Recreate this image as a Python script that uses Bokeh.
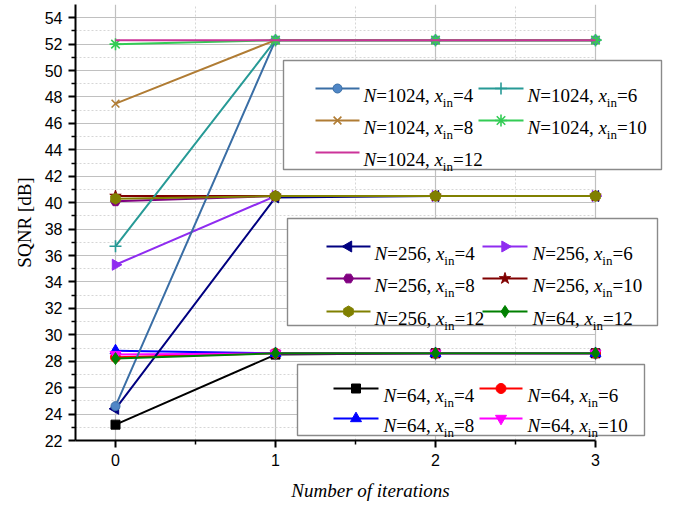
from math import pi
from bokeh.plotting import figure
from bokeh.models import FixedTicker, Range1d
from bokeh.core.properties import value
from bokeh.embed import file_html
from bokeh.resources import INLINE

# ---------------- data ----------------
iterations = [0, 1, 2, 3]

n1024_x4 = [24.6, 52.3, 52.3, 52.3]
n1024_x6 = [36.7, 52.3, 52.3, 52.3]
n1024_x8 = [47.5, 52.3, 52.3, 52.3]
n1024_x10 = [52.0, 52.3, 52.3, 52.3]
n1024_x12 = [52.3, 52.3, 52.3, 52.3]

n256_x4 = [24.4, 40.4, 40.5, 40.5]
n256_x6 = [35.3, 40.5, 40.5, 40.5]
n256_x8 = [40.1, 40.5, 40.5, 40.5]
n256_x10 = [40.5, 40.5, 40.5, 40.5]
n256_x12 = [40.3, 40.5, 40.5, 40.5]

n64_x4 = [23.2, 28.5, 28.6, 28.6]
n64_x6 = [28.3, 28.6, 28.6, 28.6]
n64_x8 = [28.8, 28.6, 28.6, 28.6]
n64_x10 = [28.5, 28.6, 28.6, 28.6]
n64_x12 = [28.2, 28.6, 28.6, 28.6]

x_ticks = [0, 1, 2, 3]
x_minor = [0.5, 1.5, 2.5]
y_ticks = [22, 24, 26, 28, 30, 32, 34, 36, 38, 40, 42, 44, 46, 48, 50, 52, 54]
y_minor = [23, 25, 27, 29, 31, 33, 35, 37, 39, 41, 43, 45, 47, 49, 51, 53]

# ---------------- layout ----------------
X0, X1 = -0.25, 3.4375
XEND = 3
Y0, Y1 = 22, 55.0
FRAME_L, FRAME_T = 75, 4      # page pixels
FW, FH = 590, 436


def dx(px):
    return X0 + (px - FRAME_L) * (X1 - X0) / FW


def dy(py):
    return Y1 - (py - FRAME_T) * (Y1 - Y0) / FH


p = figure(width=680, height=508, x_range=Range1d(X0, X1), y_range=Range1d(Y0, Y1),
           output_backend="svg", toolbar_location=None,
           min_border_left=75, min_border_right=15, min_border_top=4, min_border_bottom=68)
p.outline_line_color = None
p.background_fill_color = "white"
p.border_fill_color = "white"

xt = FixedTicker(ticks=x_ticks, minor_ticks=x_minor)
yt = FixedTicker(ticks=y_ticks, minor_ticks=y_minor)
p.xaxis.ticker = xt
p.yaxis.ticker = yt
p.xgrid.ticker = xt
p.ygrid.ticker = yt
p.xaxis.bounds = (X0, XEND)
p.xgrid.bounds = (X0, XEND)
try:
    p.ygrid.cross_bounds = (X0, XEND)
except Exception:
    pass

for g in (p.xgrid, p.ygrid):
    g.grid_line_color = "#c0c0c0"
    g.grid_line_width = 1.2
    g.minor_grid_line_color = "#d6d6d6"
    g.minor_grid_line_dash = "2 2"
    g.minor_grid_line_width = 1

for ax in (p.xaxis, p.yaxis):
    ax.axis_line_width = 2
    ax.axis_line_color = "black"
    ax.major_tick_line_width = 2
    ax.minor_tick_line_width = 1.5
    ax.major_tick_out = 7
    ax.major_tick_in = 0
    ax.minor_tick_out = 4
    ax.minor_tick_in = 0
    ax.major_label_text_font = "Liberation Sans"
    ax.major_label_text_font_size = "16px"
    ax.major_label_text_color = "black"
    ax.axis_label_text_font = "Liberation Serif"
    ax.axis_label_text_font_size = "19px"
    ax.axis_label_text_color = "black"

p.xaxis.axis_label = "Number of iterations"
p.xaxis.axis_label_text_font_style = "italic"
p.xaxis.major_label_standoff = 6
p.xaxis.axis_label_standoff = 11
p.yaxis.axis_label = "SQNR [dB]"
p.yaxis.axis_label_text_font_style = "normal"
p.yaxis.major_label_standoff = 6
p.yaxis.axis_label_standoff = 7

# ---------------- series ----------------
# (N, xin, values, color, marker, size, angle, fill, legend, row, col)
series = [
    ("64", "4", n64_x4, "#000000", "square", 9, 0, "#000000", 2, 0, 0),
    ("64", "6", n64_x6, "#ff0000", "circle", 10, 0, "#ff0000", 2, 0, 1),
    ("64", "8", n64_x8, "#0000ff", "triangle", 11, 0, "#0000ff", 2, 1, 0),
    ("64", "10", n64_x10, "#ff00ff", "inverted_triangle", 11, 0, "#ff00ff", 2, 1, 1),
    ("256", "4", n256_x4, "#000080", "triangle", 11, pi / 2, "#000080", 1, 0, 0),
    ("256", "6", n256_x6, "#8f2cf0", "triangle", 11, -pi / 2, "#8f2cf0", 1, 0, 1),
    ("256", "8", n256_x8, "#800080", "hex", 10, 0, "#800080", 1, 1, 0),
    ("256", "10", n256_x10, "#800000", "star", 12, 0, "#800000", 1, 1, 1),
    ("1024", "4", n1024_x4, "#3a6ea5", "circle", 9, 0, "#4f86c6", 0, 0, 0),
    ("1024", "6", n1024_x6, "#279a96", "cross", 12, 0, "#279a96", 0, 0, 1),
    ("1024", "8", n1024_x8, "#b07c34", "x", 11, 0, "#b07c34", 0, 1, 0),
    ("1024", "10", n1024_x10, "#33cc55", "asterisk", 12, 0, "#33cc55", 0, 1, 1),
    ("1024", "12", n1024_x12, "#cc3399", None, 0, 0, "#cc3399", 0, 2, 0),
    ("256", "12", n256_x12, "#808000", "hex", 11, pi / 2, "#808000", 1, 2, 0),
    ("64", "12", n64_x12, "#008000", "diamond", 12, 0, "#008000", 1, 2, 1),
]

for N, xin, vals, col, mk, sz, ang, fill, lg, r, c in series:
    p.line(iterations, vals, line_color=col, line_width=2)
    if mk:
        lw = 1.6 if mk in ("cross", "x", "asterisk") else 1
        p.scatter(iterations, vals, marker=mk, size=sz, angle=ang,
                  fill_color=fill, line_color=col, line_width=lw)

# ---------------- legends (drawn manually for italic / subscript text) ----------------
legend_boxes = [(283, 60, 661, 169), (287, 218, 657, 325), (297, 364, 644, 435)]
legend_rows = [[88, 120, 152], [246, 278, 311], [388, 418]]
legend_cols = [[(315, 359, 363), (478, 523, 527)],
               [(326, 370, 374), (482, 527, 532)],
               [(333, 378, 383), (479, 522, 527)]]

for (l, t, rgt, b) in legend_boxes:
    p.quad(left=[dx(l)], right=[dx(rgt)], top=[dy(t)], bottom=[dy(b)],
           fill_color="white", line_color="#8a8a8a", line_width=1.4)

FS, SUB = 19, 13
WREG = {"=": 564, ",": 250, " ": 250, "0": 500, "1": 500, "2": 500, "3": 500, "4": 500,
        "5": 500, "6": 500, "7": 500, "8": 500, "9": 500}


def wreg(s):
    return sum(WREG[ch] for ch in s) * FS / 1000.0


it_x, it_y, it_t = [], [], []
rg_x, rg_y, rg_t = [], [], []
sb_x, sb_y, sb_t = [], [], []

for N, xin, vals, col, mk, sz, ang, fill, lg, r, c in series:
    ry = legend_rows[lg][r]
    g0, g1, tx = legend_cols[lg][c]
    p.line([dx(g0), dx(g1)], [dy(ry), dy(ry)], line_color=col, line_width=2)
    if mk:
        lw = 1.6 if mk in ("cross", "x", "asterisk") else 1
        p.scatter([dx((g0 + g1) / 2)], [dy(ry)], marker=mk, size=sz, angle=ang,
                  fill_color=fill, line_color=col, line_width=lw)
    base = ry + 7
    subb = ry + 14
    pos = tx
    it_x.append(dx(pos)); it_y.append(dy(base)); it_t.append("N")
    pos += 0.667 * FS
    s1 = "=" + N + ","
    rg_x.append(dx(pos)); rg_y.append(dy(base)); rg_t.append(s1)
    pos += wreg(s1 + " ")
    it_x.append(dx(pos)); it_y.append(dy(base)); it_t.append("x")
    pos += 0.444 * FS
    sb_x.append(dx(pos)); sb_y.append(dy(subb)); sb_t.append("in")
    pos += 0.778 * SUB
    rg_x.append(dx(pos)); rg_y.append(dy(base)); rg_t.append("=" + xin)

p.text(it_x, it_y, text=it_t, text_font=value("Liberation Serif"), text_font_style="italic",
       text_font_size="19px", text_baseline="alphabetic", text_align="left", text_color="black")
p.text(rg_x, rg_y, text=rg_t, text_font=value("Liberation Serif"), text_font_style="normal",
       text_font_size="19px", text_baseline="alphabetic", text_align="left", text_color="black")
p.text(sb_x, sb_y, text=sb_t, text_font=value("Liberation Serif"), text_font_style="normal",
       text_font_size="13px", text_baseline="alphabetic", text_align="left", text_color="black")

open("out.html", "w").write(file_html(p, INLINE))
